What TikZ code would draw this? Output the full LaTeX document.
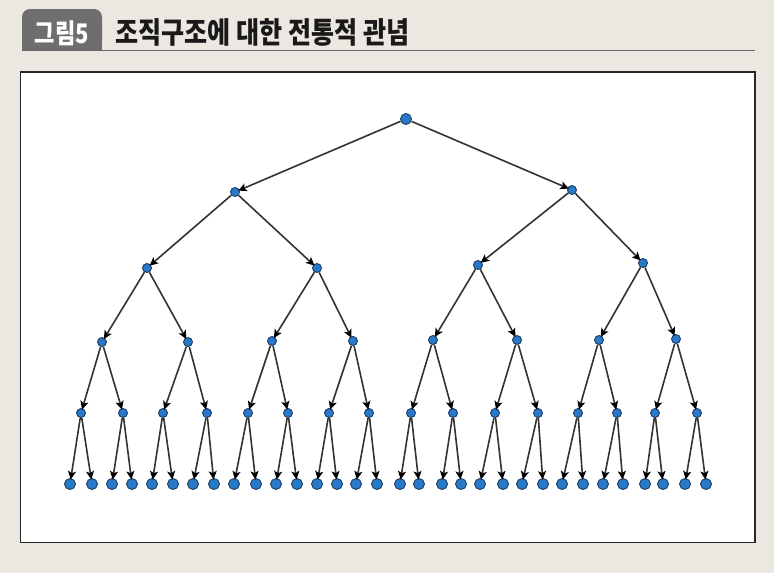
\documentclass[tikz,border=0pt]{standalone}
\usepackage{fontspec}
\newfontfamily\kr{Noto Sans CJK KR}
\usetikzlibrary{arrows.meta}
\definecolor{bgbeige}{HTML}{ECE8E1}
\definecolor{tagg}{HTML}{6E6E6E}
\definecolor{dotblue}{HTML}{2A78C8}
\definecolor{dotedge}{HTML}{1C3F66}
\definecolor{edgeg}{HTML}{333333}
\tikzset{
  dot/.style={circle,fill=dotblue,draw=dotedge,line width=0.9pt,inner sep=0pt,minimum size=9pt},
  bigdot/.style={dot,minimum size=11pt},
  edge/.style={draw=edgeg,line width=1.6pt,-{Stealth[length=8.5pt,width=8pt,black,inset=2pt]},shorten >=-1.5pt},
  tagtext/.style={text=white,anchor=base,inner sep=0pt},
  titletext/.style={text=black!90,anchor=base west,inner sep=0pt}
}
\begin{document}
\begin{tikzpicture}[x=1pt,y=-1pt]
\useasboundingbox (0,0) rectangle (774,573);
\fill[bgbeige] (0,0) rectangle (774,573);
% header
\fill[tagg,rounded corners=8pt] (22,50) -- (22,9) -- (102,9) -- (102,50) -- cycle;
\fill[tagg] (22,40) rectangle (102,50);
\node[tagtext] (tag) at (62,43) {\kr\bfseries\fontsize{27}{30}\selectfont\scalebox{0.82}[1]{그림5}};
\node[titletext] (title) at (115,43) {\kr\bfseries\fontsize{29.5}{32}\selectfont\scalebox{0.85}[1]{조직구조에 대한 전통적 관념}};
\draw[gray!80!black,line width=1.4pt] (22,50.5) -- (755,50.5);
% panel
\draw[fill=white,draw=black!85,line width=1.6pt] (20.5,72) rectangle (755,542.5);
% tree nodes
\node[bigdot] (r) at (406,119) {};
\node[dot] (a1) at (235,192) {};
\node[dot] (a2) at (572,190) {};
\foreach \x/\y [count=\i] in {147/268,317/268,478/265,643/263}
  \node[dot] (b\i) at (\x,\y) {};
\foreach \x/\y [count=\i] in {102/342,188/342,272/341,353/341,433/340,517/340,599/340,676/339}
  \node[dot] (c\i) at (\x,\y) {};
\foreach \x [count=\i] in {81,123,163,207,248,288,329,369,411,453,495,538,578,617,655,697}
  \node[dot] (d\i) at (\x,413) {};
\foreach \x [count=\i] in {70,92,112,132,152,173,193,214,234,256,276,297,317,337,356,377,400,419,442,461,480,503,522,543,562,583,603,623,645,663,685,706}
  \node[bigdot] (e\i) at (\x,484) {};
% edges
\draw[edge] (r) -- (a1);
\draw[edge] (r) -- (a2);
\foreach \i in {1,2}{
  \pgfmathtruncatemacro\j{2*\i-1}\pgfmathtruncatemacro\k{2*\i}
  \draw[edge] (a\i) -- (b\j); \draw[edge] (a\i) -- (b\k);}
\foreach \i in {1,...,4}{
  \pgfmathtruncatemacro\j{2*\i-1}\pgfmathtruncatemacro\k{2*\i}
  \draw[edge] (b\i) -- (c\j); \draw[edge] (b\i) -- (c\k);}
\foreach \i in {1,...,8}{
  \pgfmathtruncatemacro\j{2*\i-1}\pgfmathtruncatemacro\k{2*\i}
  \draw[edge] (c\i) -- (d\j); \draw[edge] (c\i) -- (d\k);}
\foreach \i in {1,...,16}{
  \pgfmathtruncatemacro\j{2*\i-1}\pgfmathtruncatemacro\k{2*\i}
  \draw[edge] (d\i) -- (e\j); \draw[edge] (d\i) -- (e\k);}
\end{tikzpicture}
\end{document}
